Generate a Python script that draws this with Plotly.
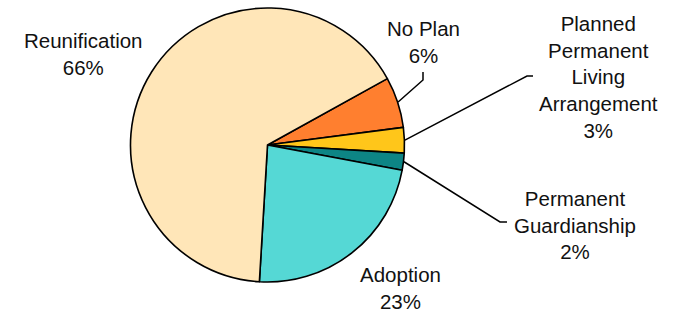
import math
import plotly.graph_objects as go

# ---- data ----
categories = ["No Plan", "Planned Permanent Living Arrangement", "Permanent Guardianship", "Adoption", "Reunification"]
label_text = ["No Plan", "Planned<br>Permanent<br>Living<br>Arrangement", "Permanent<br>Guardianship", "Adoption", "Reunification"]
values = [6, 3, 2, 23, 66]
colors = ["#FF7F2F", "#FFC61A", "#0D8585", "#55D8D5", "#FFE6B8"]

W, H = 677, 317
CX, CY, R = 267.5, 145, 137
ROT = 61

# label centers (pixels) and elbow points for leader lines
label_pos = [(424, 42), (598, 77), (575, 225), (400, 288), (83, 54)]
leader = {0: [(423, 80), (423, 72)], 1: [(527, 76), (533, 76)], 2: [(500, 222), (507, 222)]}

def px(x):
    return x / W

def py(y):
    return 1 - y / H

fig = go.Figure(go.Pie(
    labels=categories, values=values, sort=False, direction="clockwise",
    rotation=ROT, textinfo="none", hoverinfo="label+percent",
    marker=dict(colors=colors, line=dict(color="#000000", width=1.6)),
    domain=dict(x=[px(CX - R), px(CX + R)], y=[py(CY + R), py(CY - R)]),
    showlegend=False,
))

total = sum(values)
cum = 0
shapes = []
annotations = []
for i, v in enumerate(values):
    mid = ROT + 360 * (cum + v / 2) / total
    cum += v
    pct = round(100 * v / total)
    lx, ly = label_pos[i]
    annotations.append(dict(
        x=px(lx), y=py(ly), xref="paper", yref="paper", showarrow=False,
        text=f"{label_text[i]}<br>{pct}%", xanchor="center", yanchor="middle",
        align="center", font=dict(family="Liberation Sans, Arial, sans-serif", size=20.5, color="#111111"),
    ))
    if i in leader:
        a = math.radians(mid)
        ex = CX + (R + 0.5) * math.sin(a)
        ey = CY - (R + 0.5) * math.cos(a)
        pts = [(ex, ey)] + leader[i]
        path = "M " + " L ".join(f"{px(x):.5f},{py(y):.5f}" for x, y in pts)
        shapes.append(dict(type="path", path=path, xref="paper", yref="paper",
                           line=dict(color="#000000", width=1.5)))

fig.update_layout(
    width=W, height=H, margin=dict(l=0, r=0, t=0, b=0),
    paper_bgcolor="white", plot_bgcolor="white",
    shapes=shapes, annotations=annotations,
)

fig.write_html("out.html", config={"displayModeBar": False},
               post_script="document.body.style.margin='0px';document.body.style.overflow='hidden';")
